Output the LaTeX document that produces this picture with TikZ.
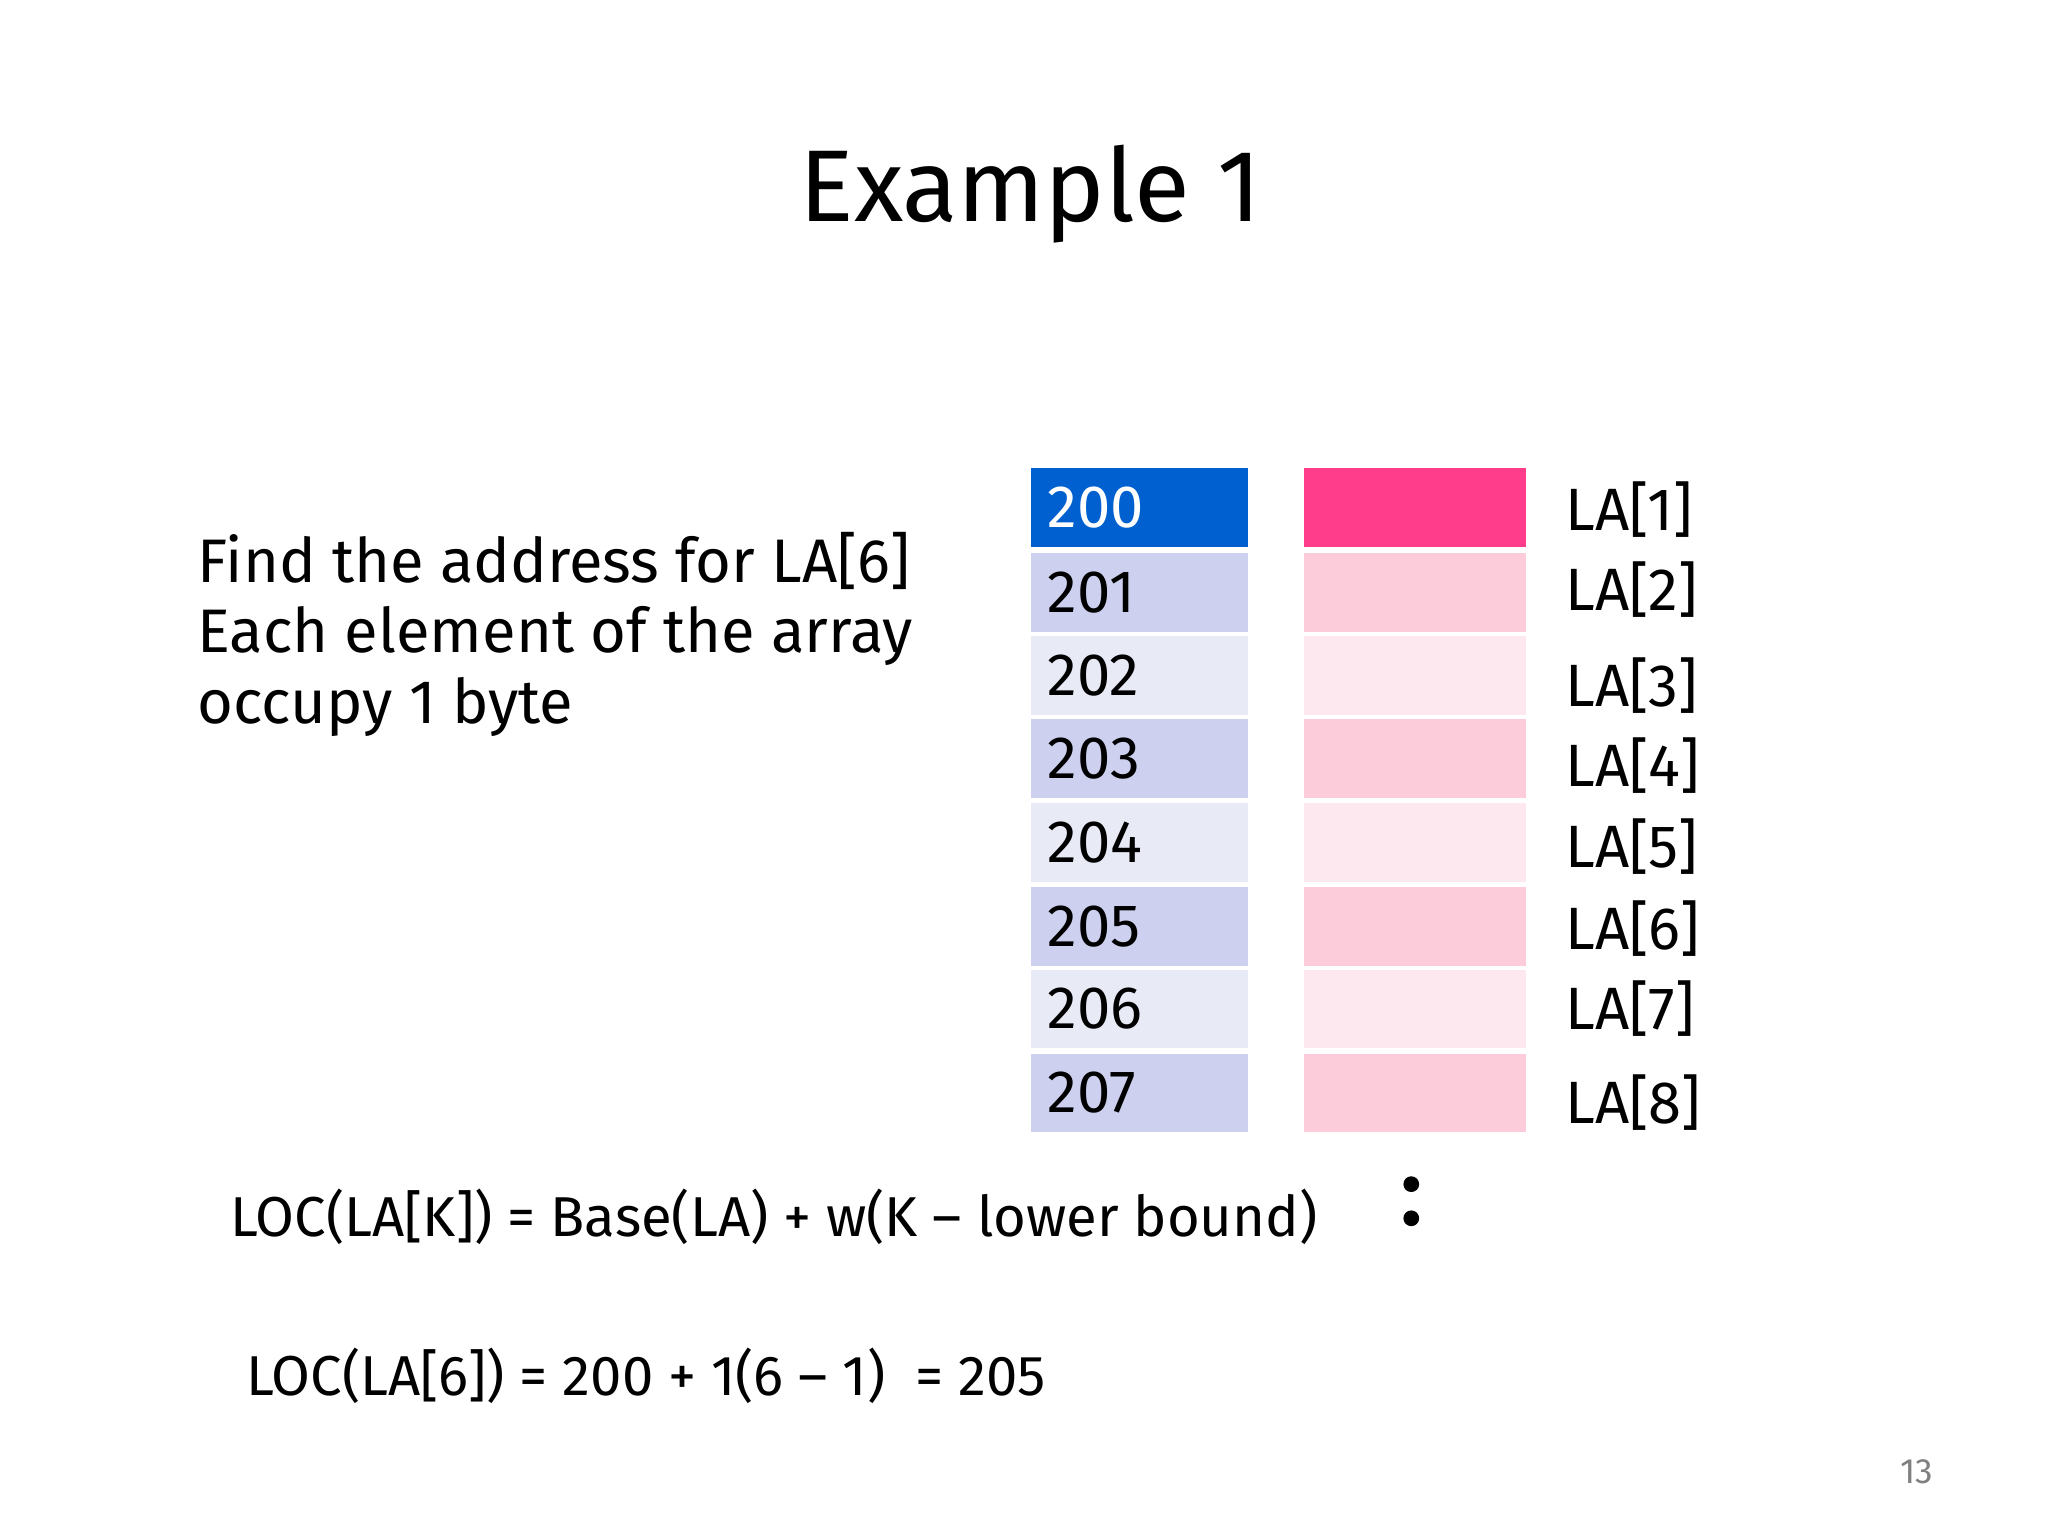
\documentclass[tikz,border=0pt]{standalone}
\usepackage{fontspec}
\setmainfont{Fira Sans}
\definecolor{bdark}{HTML}{0060D0}
\definecolor{bodd}{HTML}{CDD0EE}
\definecolor{beven}{HTML}{E8EAF6}
\definecolor{pdark}{HTML}{FF3D8A}
\definecolor{pmid}{HTML}{FDCCDB}
\definecolor{plight}{HTML}{FDE8EF}
\begin{document}
\begin{tikzpicture}[x=0.13128mm,y=-0.13128mm,
  cell/.style={minimum width=165*0.13128mm,minimum height=60*0.13128mm,inner sep=0pt,anchor=north west,font=\fontsize{17}{20}\selectfont,text=black},
  addr/.style={cell,align=left,text width=140*0.13128mm},
  txt/.style={font=\fontsize{16}{20}\selectfont,anchor=west,inner sep=0pt}]
\useasboundingbox[fill=white] (0,0) rectangle (1560,1170);
\node[font=\fontsize{29}{34}\selectfont] (title) at (785,148) {Example 1};
\node[txt,font=\fontsize{17.5}{20}\selectfont,align=left,anchor=north west] (task) at (150,405) {Find the address for LA[6]\\Each element of the array\\occupy 1 byte};
\def\ys{{356,421,484,547,611,675,738,802}}
\foreach \i/\n/\bc/\pc/\dy in {0/200/bdark/pdark/32,1/201/bodd/pmid/28,2/202/beven/plight/38,3/203/bodd/pmid/36,4/204/beven/plight/34,5/205/bodd/pmid/32,6/206/beven/plight/30,7/207/bodd/pmid/38}{
  \pgfmathsetmacro\yy{\ys[\i]}
  \node[addr,fill=\bc] (a\i) at (785,\yy) {\ifnum\i=0 \color{white}\fi\n};
  \node[cell,minimum width=169*0.13128mm,fill=\pc] (p\i) at (993,\yy) {};
  \pgfmathtruncatemacro\k{\i+1}
  \node[txt,font=\fontsize{17}{20}\selectfont] (l\i) at (1192,\yy+\dy) {LA[\k]};
}
\fill (1075,902) circle (6);
\fill (1075,928) circle (6);
\node[txt] (f1) at (175,927) {LOC(LA[K]) = Base(LA) + w(K – lower bound)};
\node[txt] (f2) at (187,1048) {LOC(LA[6]) = 200 + 1(6 – 1) \ = 205};
\node[font=\fontsize{10}{12}\selectfont,text=gray] (pg) at (1460,1121) {13};
\end{tikzpicture}
\end{document}
